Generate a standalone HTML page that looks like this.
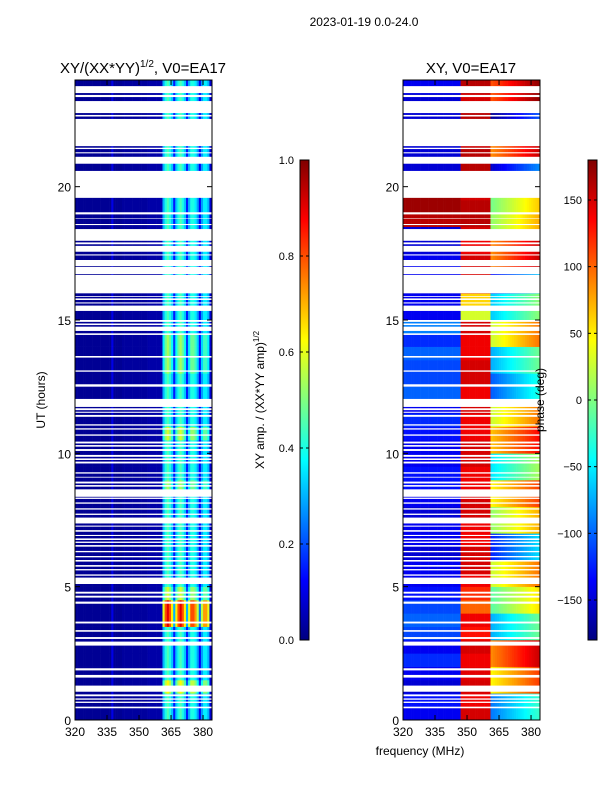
<!DOCTYPE html>
<html><head><meta charset="utf-8">
<style>
html,body{margin:0;padding:0;background:#fff;}
svg{display:block;font-family:"Liberation Sans","DejaVu Sans",sans-serif;}
</style></head>
<body>
<svg id="fig" width="600" height="800" viewBox="0 0 600 800" xmlns="http://www.w3.org/2000/svg">
<text x="364" y="26" font-size="12" text-anchor="middle">2023-01-19 0.0-24.0</text>
<text x="143" y="73" font-size="15" text-anchor="middle">XY/(XX*YY)<tspan font-size="10" dy="-6">1/2</tspan><tspan dy="6">, V0=EA17</tspan></text>
<text x="471" y="73" font-size="15" text-anchor="middle">XY, V0=EA17</text>
<text transform="translate(45,400) rotate(-90)" font-size="12" text-anchor="middle">UT (hours)</text>
<text x="420" y="755" font-size="12" text-anchor="middle">frequency (MHz)</text>
<text transform="translate(264,400) rotate(-90)" font-size="12" text-anchor="middle">XY amp. / (XX*YY amp)<tspan font-size="8" dy="-5">1/2</tspan></text>
<g id="left"></g>
<g id="right"></g>
<g id="cbars"></g>
<text transform="translate(544,400) rotate(-90)" font-size="12" text-anchor="middle">phase (deg)</text>
</svg>
<script>
// ---- data ----
const freqStart = 320;
const ampProfile = [0.02,0.02,0.02,0.02,0.02,0.02,0.02,0.02,0.02,0.02,0.02,0.02,0.02,0.02,0.02,0.02,0.02,0.1,0.02,0.02,0.02,0.02,0.03,0.03,0.03,0.03,0.03,0.03,0.03,0.03,0.03,0.03,0.03,0.03,0.04,0.04,0.04,0.04,0.04,0.04,0.05,
 0.3,0.4,0.45,0.4,0.32,0.15,0.32,0.4,0.45,0.4,0.32,0.15,0.3,0.4,0.4,0.36,0.28,0.12,0.28,0.36,0.36,0.3,0.08,0.04];
const ampGain = [1,1,1.4,1,1,1,1,2.0,2.0,1.3,1,1,1,1,1,1,1,1.2,1,1,1,1.3,1,1,1,1,1.2,1.2,1.2,1,1,1,1,1,1,1,1,1,1,1,1,1,1,1,1,1,1,1];
const phaseLow = [-140,-130,-150,-140,-120,-140,-110,-100,-110,-130,-140,-140,-150,-140,-140,-150,-140,-130,-130,-140,-140,-130,-120,-140,-100,-110,-110,-100,-120,-90,-140,-140,-150,-140,-140,-150,-150,160,170,170,-150,-150,-150,-150,-140,-150,-150,-140];
const phaseMid = [150,140,150,145,140,150,130,140,100,120,140,150,150,140,140,150,150,140,140,150,150,140,140,150,140,150,150,140,140,150,30,60,150,150,150,140,150,160,160,150,160,160,160,150,160,160,150,160];
const phaseHigh = [-60,-60,80,80,120,120,-40,-40,20,20,60,60,-90,-90,40,40,80,80,-20,-20,100,100,60,60,-70,-70,-40,-40,60,60,-30,-30,-100,-100,120,120,40,40,30,30,-120,-120,120,120,-140,-140,140,140];
const gaps = [[23.51,23.77],[23.36,23.44],[22.76,23.21],[22.63,22.69],[21.52,22.54],[21.41,21.46],[21.25,21.29],[20.86,21.12],[19.58,20.59],[18.96,19.04],[18.79,18.81],[18.56,18.60],[17.97,18.41],[17.84,17.91],[17.56,17.78],[17.42,17.46],[17.02,17.25],[16.72,16.99],[16.0,16.69],[15.87,15.90],[15.75,15.81],[15.62,15.66],[15.34,15.54],[14.93,15.0],[14.81,14.87],[14.59,14.75],[14.44,14.50],[13.59,13.65],[13.06,13.11],[12.50,12.59],[11.74,12.04],[11.62,11.69],[11.52,11.56],[11.37,11.44],[11.04,11.09],[10.89,10.94],[10.66,10.71],[10.37,10.44],[10.25,10.31],[10.09,10.16],[9.87,9.94],[9.75,9.81],[9.62,9.69],[9.24,9.29],[9.09,9.12],[8.87,8.94],[8.75,8.81],[8.37,8.65],[8.29,8.34],[8.11,8.16],[7.89,7.94],[7.69,7.74],[7.37,7.59],[7.25,7.29],[7.06,7.12],[6.90,6.94],[6.75,6.81],[6.64,6.69],[6.50,6.56],[6.29,6.34],[6.10,6.15],[5.94,6.0],[5.75,5.81],[5.61,5.66],[5.41,5.46],[5.10,5.34],[4.74,4.81],[4.59,4.66],[4.36,4.44],[3.62,3.69],[3.31,3.37],[3.04,3.11],[2.79,2.94],[1.86,1.94],[1.59,1.69],[1.06,1.29],[0.89,0.96],[0.76,0.81],[0.64,0.69],[0.44,0.50]];
const yTicks = [0,5,10,15,20];
const xTicks = [320,335,350,365,380];
const ampTicks = [0.0,0.2,0.4,0.6,0.8,1.0];
const phaseTicks = [-150,-100,-50,0,50,100,150];

// ---- geometry ----
const NS='http://www.w3.org/2000/svg';
const yTop=80, yBot=720, fMin=320, fMax=384.2;
const yS = h => yBot - h*(yBot-yTop)/24;
function mk(tag, attrs, parent){const e=document.createElementNS(NS,tag);for(const k in attrs)e.setAttribute(k,attrs[k]);parent.appendChild(e);return e;}
function jet(v){v=Math.max(0,Math.min(1,v));
 const r=Math.max(0,Math.min(1,1.5-Math.abs(4*v-3))),g=Math.max(0,Math.min(1,1.5-Math.abs(4*v-2))),b=Math.max(0,Math.min(1,1.5-Math.abs(4*v-1)));
 return `rgb(${Math.round(r*255)},${Math.round(g*255)},${Math.round(b*255)})`;}

function panel(gid, x0, valFn, isAmp){
 const g=document.getElementById(gid);
 const w=137; const xS=f=>x0+(f-fMin)*w/(fMax-fMin);
 for(let i=0;i<ampGain.length;i++){
  const y1=yS(i*0.5+0.5), y2=yS(i*0.5);
  for(let k=0;k<ampProfile.length;k++){
   const f=freqStart+k; if(f>=fMax)break;
   const xa=xS(f), xb=xS(Math.min(f+1,fMax));
   const r=mk('rect',{x:xa.toFixed(2),y:y1.toFixed(2),width:(xb-xa+0.3).toFixed(2),height:(y2-y1+0.3).toFixed(2),fill:jet(valFn(i,k,f))},g);
   
   
  }
 }
 for(const gp of gaps){
  const r=mk('rect',{x:x0,y:yS(gp[1]).toFixed(2),width:w,height:(yS(gp[0])-yS(gp[1])).toFixed(2),fill:'#fff'},g);
  
  
 }
 const fr=mk('rect',{x:x0,y:yTop,width:w,height:yBot-yTop,fill:'none',stroke:'#000','stroke-width':1},g);
 
 
 for(const t of yTicks){const y=yS(t);
  mk('line',{x1:x0,x2:x0+5,y1:y,y2:y,stroke:'#000'},g);mk('line',{x1:x0+w-5,x2:x0+w,y1:y,y2:y,stroke:'#000'},g);
  const tx=mk('text',{x:x0-4,y:y+5,'font-size':12,'text-anchor':'end'},g);tx.textContent=t;
  
  
 }
 for(const t of xTicks){const x=xS(t);
  mk('line',{x1:x,x2:x,y1:yBot,y2:yBot-5,stroke:'#000'},g);mk('line',{x1:x,x2:x,y1:yTop,y2:yTop+5,stroke:'#000'},g);
  const tx=mk('text',{x:x,y:yBot+16,'font-size':12,'text-anchor':'middle'},g);tx.textContent=t;
  
  
 }
}
panel('left',75,(i,k,f)=>ampProfile[k]*(ampProfile[k]>0.1?ampGain[i]:1),true);
panel('right',403,(i,k,f)=>{const p=f<347?phaseLow[i]:(f<361?phaseMid[i]:phaseHigh[i]+(f-372)*3);const q=((p+180)%360+360)%360-180;return (q+180)/360;},false);

// colorbars
const cb=document.getElementById('cbars');
const defs=mk('defs',{},cb);
const lg=mk('linearGradient',{id:'jetg',x1:0,y1:1,x2:0,y2:0},defs);
for(let s=0;s<=8;s++){mk('stop',{offset:s/8,'stop-color':jet(s/8)},lg);}
function cbar(x,ticks,lo,hi,name){
 const r=mk('rect',{x:x,y:160,width:9,height:480,fill:'url(#jetg)',stroke:'#000','stroke-width':1},cb);
 
 
 for(const t of ticks){const y=640-(t-lo)/(hi-lo)*480;
  mk('line',{x1:x,x2:x+3,y1:y,y2:y,stroke:'#000'},cb);mk('line',{x1:x+6,x2:x+9,y1:y,y2:y,stroke:'#000'},cb);
  const tx=mk('text',{x:x-6,y:y+4,'font-size':11,'text-anchor':'end'},cb);
  tx.textContent= lo===0? t.toFixed(1) : (t<0?'\u2212'+(-t):String(t));
  
  
 }
}
cbar(300,ampTicks,0,1,'amp-colorbar');
cbar(588,phaseTicks,-180,180,'phase-colorbar');
</script>
</body></html>
